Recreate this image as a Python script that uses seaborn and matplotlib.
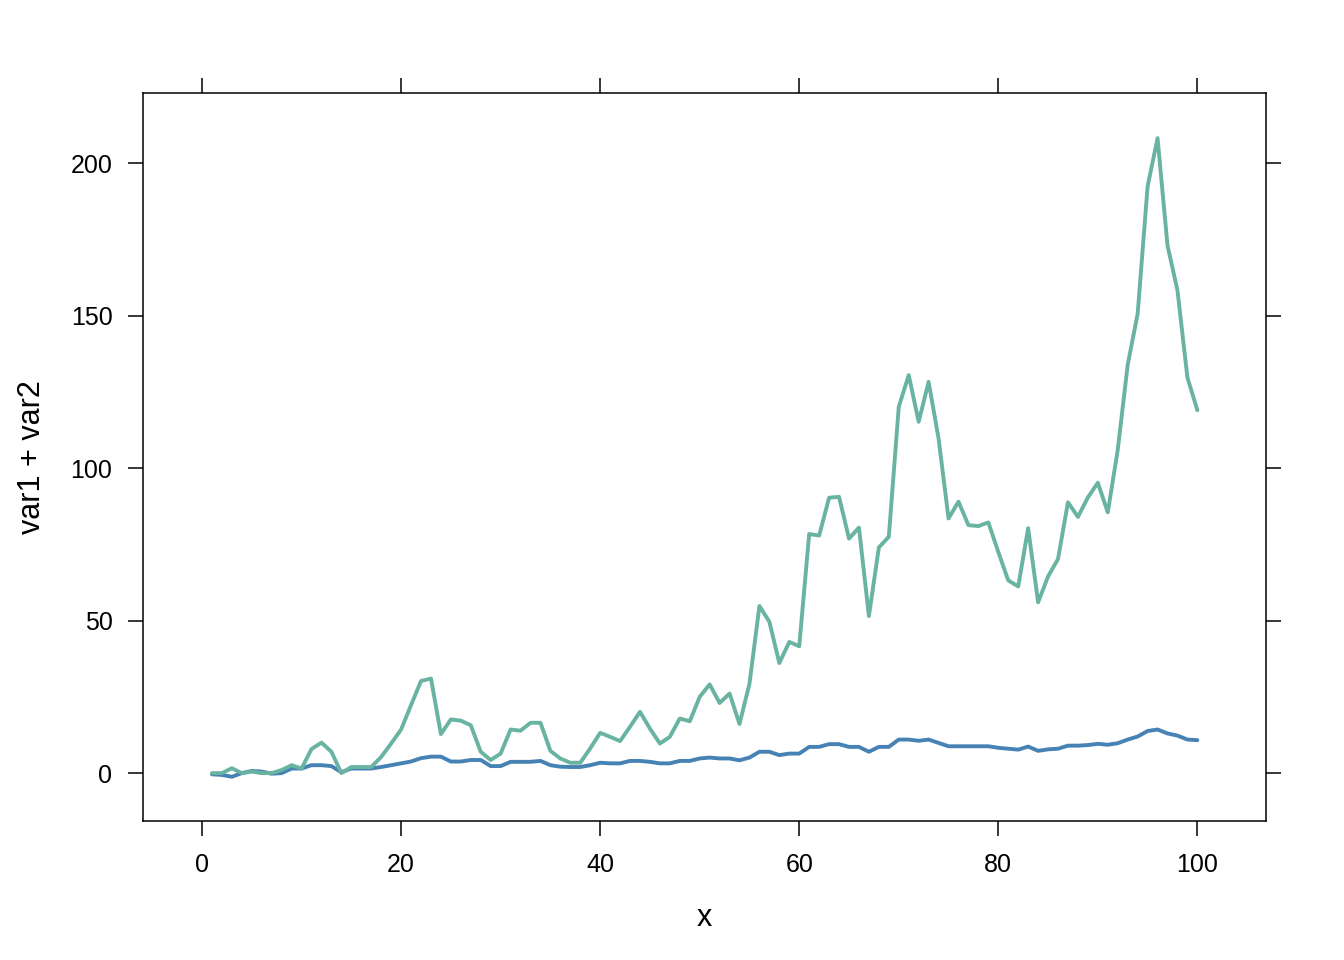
import numpy as np
import pandas as pd
import seaborn as sns
import matplotlib.pyplot as plt

# valores
x = list(range(1, 101))

var1 = [-0.4, -0.6, -1.2, 0, 0.7, 0.5, -0.2, 0, 1.5, 1.5,
        2.6, 2.6, 2.3, 0.3, 1.5, 1.5, 1.5, 2, 2.6, 3.2,
        3.8, 4.9, 5.4, 5.4, 3.8, 3.8, 4.3, 4.3, 2.3, 2.3,
        3.7, 3.7, 3.7, 4, 2.6, 2.1, 2, 2, 2.6, 3.4,
        3.2, 3.2, 4, 4, 3.7, 3.2, 3.2, 4, 4, 4.8,
        5.1, 4.8, 4.8, 4.2, 5.1, 7, 7, 5.9, 6.4, 6.4,
        8.6, 8.6, 9.5, 9.5, 8.6, 8.6, 7, 8.6, 8.6, 11,
        11, 10.6, 11, 9.9, 8.8, 8.8, 8.8, 8.8, 8.8, 8.3,
        8, 7.7, 8.7, 7.3, 7.8, 8, 9, 9, 9.2, 9.6,
        9.3, 9.8, 11, 12, 13.8, 14.3, 13, 12.3, 11, 10.8]

var2 = [0, 0, 1.6, 0, 0.5, 0, 0, 1, 2.6, 1.5,
        7.9, 10, 7, 0, 2, 2, 2, 5.3, 9.7, 14.3,
        22.3, 30.2, 31, 12.8, 17.6, 17.2, 15.7, 7, 4.3, 6.4,
        14.3, 13.9, 16.5, 16.5, 7.3, 4.8, 3.4, 3.4, 8.1, 13.2,
        11.9, 10.5, 15.2, 20.1, 14.6, 9.7, 11.9, 17.9, 17, 25,
        29.1, 23, 26.1, 16.1, 29.3, 54.8, 49.6, 36.1, 43, 41.6,
        78.4, 77.9, 90.3, 90.6, 76.9, 80.5, 51.5, 74, 77.5, 120.1,
        130.5, 115.2, 128.3, 109.7, 83.5, 89, 81.3, 81, 82.2, 72.5,
        63.2, 61.2, 80.3, 56, 64.5, 70.2, 88.8, 84, 90.4, 95.2,
        85.5, 106, 133.9, 150.6, 192.4, 208.2, 173, 158.3, 129.7, 119]

df = pd.DataFrame({'x': x * 2,
                   'valor': var1 + var2,
                   'serie': ['var1'] * 100 + ['var2'] * 100})

sns.set_style('white')
plt.rcParams['font.family'] = ['Liberation Sans', 'DejaVu Sans']
plt.rcParams['text.color'] = 'black'
plt.rcParams['axes.labelcolor'] = 'black'
plt.rcParams['xtick.color'] = 'black'
plt.rcParams['ytick.color'] = 'black'

fig = plt.figure(figsize=(13.44, 9.6), dpi=100)
ax = fig.add_axes([0.1064, 0.1448, 0.8356, 0.7583])

sns.lineplot(data=df, x='x', y='valor', hue='serie',
             palette={'var1': '#4682B4', 'var2': '#69B3A2'},
             linewidth=2.8, legend=False, ax=ax)

ax.set_xlim(-5.93, 106.9)
ax.set_ylim(-15.7, 223)
ax.set_xticks([0, 20, 40, 60, 80, 100])
ax.set_yticks([0, 50, 100, 150, 200])

for s in ax.spines.values():
    s.set_color('black')
    s.set_linewidth(1.1)

ax.tick_params(axis='both', which='both', direction='out', length=11, width=1.1,
               color='black', labelcolor='black', labelsize=18,
               top=True, right=True, bottom=True, left=True,
               labeltop=False, labelright=False)
ax.tick_params(axis='x', pad=12)
ax.tick_params(axis='y', pad=11)

ax.set_xlabel('x', fontsize=22, labelpad=19)
ax.set_ylabel('var1 + var2', fontsize=22, labelpad=17)

fig.savefig('out.png', dpi=100)
